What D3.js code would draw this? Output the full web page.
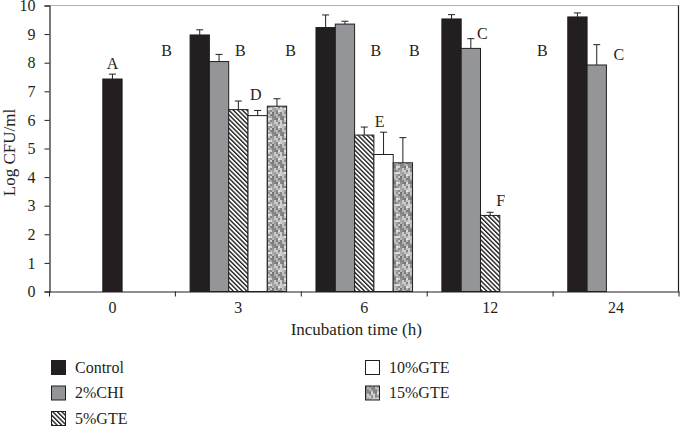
<!DOCTYPE html>
<html><head><meta charset="utf-8">
<script src="https://cdn.jsdelivr.net/npm/d3@7"></script>
<style>
body{margin:0;background:#fff;}
svg text{font-family:"Liberation Serif","Times New Roman",serif !important;fill:#231f20;}
</style>
</head><body>
<svg id="c" width="680" height="426"></svg>
<script>
const categories = ["0", "3", "6", "12", "24"];
const seriesNames = ["Control", "2%CHI", "5%GTE", "10%GTE", "15%GTE"];
const control    = [7.43, 8.97, 9.23, 9.53, 9.60];
const controlErr = [0.17, 0.18, 0.44, 0.15, 0.14];
const chi        = [null, 8.04, 9.35, 8.50, 7.92];
const chiErr     = [null, 0.25, 0.10, 0.34, 0.71];
const gte5       = [null, 6.36, 5.47, 2.66, null];
const gte5Err    = [null, 0.30, 0.28, 0.11, null];
const gte10      = [null, 6.15, 4.79, null, null];
const gte10Err   = [null, 0.18, 0.78, null, null];
const gte15      = [null, 6.48, 4.50, null, null];
const gte15Err   = [null, 0.26, 0.88, null, null];
const yTicks = [0, 1, 2, 3, 4, 5, 6, 7, 8, 9, 10];
// significance letters: category, slot position (in bar slots), height (data units), text
const letterCats  = ["0", "0", "3", "3", "3", "6", "6", "6", "12", "12", "12", "24"];
const letterSlots = [2.0, 4.8, 2.1, 2.9, 4.7, 2.8, 2.6, 4.6, 1.6, 2.55, 4.7, 2.15];
const letterVals  = [7.98, 8.43, 8.43, 6.89, 8.43, 5.96, 8.43, 8.43, 9.01, 3.19, 8.43, 8.29];
const letterText  = ["A", "B", "B", "D", "B", "E", "B", "B", "C", "F", "B", "C"];
const yTitle = "Log CFU/ml";
const xTitle = "Incubation time (h)";

const values = [control, chi, gte5, gte10, gte15];
const errors = [controlErr, chiErr, gte5Err, gte10Err, gte15Err];

const FONT = '"Liberation Serif","Times New Roman",serif';
const svg = d3.select("#c");
const L = 49.5, R = 679, T = 5.5, B = 291.5;

// patterns
const defs = svg.append("defs");
const stripe = defs.append("pattern").attr("id", "stripe")
  .attr("patternUnits", "userSpaceOnUse").attr("width", 3.2).attr("height", 3.2)
  .attr("patternTransform", "rotate(-45)");
stripe.append("rect").attr("width", 3.2).attr("height", 3.2).attr("fill", "#fff");
stripe.append("rect").attr("width", 1.4).attr("height", 3.2).attr("fill", "#231f20");

const speck = defs.append("pattern").attr("id", "speck")
  .attr("patternUnits", "userSpaceOnUse").attr("width", 16).attr("height", 16);
for (let i = 0; i < 8; i++) for (let j = 0; j < 8; j++) {
  const h = (i * 37 + j * 91 + i * j * 23 + (i ^ j) * 17) % 100;
  const gg = Math.round(115 + h * 1.15);
  speck.append("rect").attr("x", i * 2).attr("y", j * 2).attr("width", 2).attr("height", 2)
    .attr("fill", `rgb(${gg},${gg},${gg})`);
}
const fills = ["#231f20", "#939598", "url(#stripe)", "#ffffff", "url(#speck)"];

const x = d3.scaleBand().domain(categories).range([L, R]).padding(0);
const xi = d3.scaleBand().domain(d3.range(5)).range([0, x.bandwidth()]).paddingInner(0).paddingOuter(0.76);
const y = d3.scaleLinear().domain([0, 10]).range([B, T]);

// frame (top and right)
svg.append("line").attr("x1", L).attr("x2", R).attr("y1", T).attr("y2", T)
  .attr("stroke", "#b0b0b0").attr("stroke-width", 1.2);
svg.append("line").attr("x1", R - 0.5).attr("x2", R - 0.5).attr("y1", T).attr("y2", B)
  .attr("stroke", "#231f20").attr("stroke-width", 1.2);

// bars
const bars = [];
categories.forEach((c, ci) => {
  const present = values.map((v, si) => v[ci] != null ? si : -1).filter(s => s >= 0);
  present.forEach(si => {
    const slot = present.length === 1 ? 2 : si;
    bars.push({c, si, slot, v: values[si][ci], e: errors[si][ci]});
  });
});
const g = svg.append("g");
g.selectAll("rect.bar").data(bars).join("rect").attr("class", "bar")
  .attr("x", d => x(d.c) + xi(d.slot))
  .attr("y", d => y(d.v))
  .attr("width", xi.bandwidth())
  .attr("height", d => y(0) - y(d.v))
  .attr("fill", d => fills[d.si])
  .attr("stroke", "#231f20").attr("stroke-width", 1);
// error bars
const eb = g.selectAll("g.err").data(bars).join("g").attr("class", "err");
eb.append("line")
  .attr("x1", d => x(d.c) + xi(d.slot) + xi.bandwidth() / 2)
  .attr("x2", d => x(d.c) + xi(d.slot) + xi.bandwidth() / 2)
  .attr("y1", d => y(d.v)).attr("y2", d => y(d.v + d.e))
  .attr("stroke", "#231f20").attr("stroke-width", 1);
eb.append("line")
  .attr("x1", d => x(d.c) + xi(d.slot) + xi.bandwidth() / 2 - 3.5)
  .attr("x2", d => x(d.c) + xi(d.slot) + xi.bandwidth() / 2 + 3.5)
  .attr("y1", d => y(d.v + d.e)).attr("y2", d => y(d.v + d.e))
  .attr("stroke", "#231f20").attr("stroke-width", 1);

// letters
svg.append("g").selectAll("text").data(letterText).join("text")
  .attr("x", (t, i) => x(letterCats[i]) + xi.paddingOuter() * xi.step() + (letterSlots[i] + 0.5) * xi.step())
  .attr("y", (t, i) => y(letterVals[i]))
  .attr("dy", "0.35em").attr("text-anchor", "middle")
  .style("font-family", FONT).style("font-size", "16px").text(t => t);

// y axis
const ya = svg.append("g").attr("transform", `translate(${L},0)`)
  .call(d3.axisLeft(y).tickValues(yTicks).tickSize(5).tickPadding(9).tickFormat(d3.format("d")));
ya.attr("font-family", null).attr("font-size", null);
ya.select(".domain").attr("stroke", "#231f20").attr("stroke-width", 1.2);
ya.selectAll(".tick line").attr("stroke", "#231f20");
ya.selectAll(".tick text").style("font-size", "16px").attr("fill", "#231f20")
  .style("font-family", FONT);

// x axis
const xa = svg.append("g").attr("transform", `translate(0,${B})`)
  .call(d3.axisBottom(x).tickSize(0).tickPadding(10));
xa.attr("font-family", null).attr("font-size", null);
xa.select(".domain").attr("stroke", "#231f20").attr("stroke-width", 1.2);
xa.selectAll(".tick text").style("font-size", "16px").attr("fill", "#231f20")
  .style("font-family", FONT);
const bounds = categories.map(c => x(c)).concat([x.range()[1]]);
xa.selectAll("line.bt").data(bounds).join("line").attr("class", "bt")
  .attr("x1", d => d).attr("x2", d => d).attr("y1", 0).attr("y2", 5)
  .attr("stroke", "#231f20").attr("stroke-width", 1);

// titles
svg.append("text").attr("x", (L + R) / 2 - 8).attr("y", 335).attr("text-anchor", "middle")
  .style("font-family", FONT).style("font-size", "17px").text(xTitle);
svg.append("text").attr("transform", `translate(15,${(T + B) / 2 + 4}) rotate(-90)`)
  .attr("text-anchor", "middle").style("font-family", FONT).style("font-size", "17px").text(yTitle);

// legend
const legSeries = [0, 1, 2, 3, 4];
const lg = svg.append("g").selectAll("g").data(legSeries).join("g")
  .attr("transform", s => `translate(${[51, 51, 51, 365, 365][s]},${360 + [0, 1, 2, 0, 1][s] * 25.5})`);
lg.append("rect").attr("x", 0.5).attr("y", 0.5).attr("width", 14).attr("height", 14)
  .attr("fill", s => fills[s]).attr("stroke", "#231f20").attr("stroke-width", 1);
lg.append("text").attr("x", 24).attr("y", 12.5).style("font-family", FONT)
  .style("font-size", "16px").text(s => seriesNames[s]);
</script>
</body></html>
